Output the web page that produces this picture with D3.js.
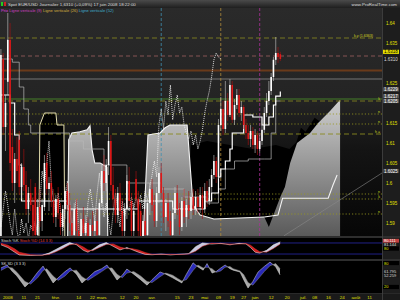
<!DOCTYPE html>
<html>
<head>
<meta charset="utf-8">
<script src="https://cdn.jsdelivr.net/npm/d3@7"></script>
<style>
  body { margin: 0; background: #000; }
  svg { display: block; font-family: "Liberation Sans", Arial, sans-serif; }
</style>
</head>
<body>
<div id="chart"></div>
<script>
// daily candles, day 0 = 27 Dec 2007 ... day 122 = 17 Jun 2008
const opens = [1.5830,1.6310,1.6140,1.6253,1.6358,1.6090,1.6000,1.6060,1.6108,1.5990,
  1.6040,1.5995,1.5935,1.5975,1.5945,1.5990,1.5870,1.5940,1.5905,1.5940,
  1.6050,1.5985,1.6000,1.5955,1.5915,1.5960,1.5925,1.5890,1.5935,1.5980,
  1.5945,1.5900,1.5870,1.5935,1.5880,1.5855,1.5910,1.5875,1.5900,1.5860,
  1.5895,1.5880,1.5905,1.5870,1.5950,1.6030,1.6000,1.6045,1.6105,1.5995,
  1.5960,1.5920,1.5975,1.5930,1.5880,1.5935,1.6005,1.5955,1.5880,1.6010,
  1.5960,1.5930,1.5865,1.5905,1.5870,1.5950,1.5985,1.5945,1.5905,1.5975,
  1.6025,1.5975,1.5915,1.5950,1.5905,1.5870,1.5925,1.5975,1.5935,1.5890,
  1.5955,1.5915,1.5945,1.5930,1.5965,1.5935,1.5965,1.5940,1.5970,1.5935,
  1.5980,1.5955,1.5990,1.6020,1.6055,1.6015,1.6145,1.6185,1.6135,1.6205,
  1.6170,1.6245,1.6158,1.6195,1.6220,1.6175,1.6190,1.6145,1.6125,1.6110,
  1.6130,1.6095,1.6120,1.6085,1.6105,1.6133,1.6175,1.6205,1.6230,1.6265,
  1.6308,1.6325,1.6322];
const highs = [1.6335,1.6325,1.6220,1.6425,1.6400,1.6135,1.6075,1.6115,1.6130,1.6050,
  1.6085,1.6030,1.5990,1.6010,1.5965,1.6000,1.5960,1.5985,1.5960,1.6070,
  1.6075,1.6015,1.6030,1.5985,1.5970,1.5990,1.5950,1.5945,1.5990,1.6000,
  1.5975,1.5930,1.5950,1.5960,1.5900,1.5925,1.5940,1.5920,1.5915,1.5910,
  1.5930,1.5920,1.5935,1.5960,1.6050,1.6070,1.6060,1.6140,1.6120,1.6040,
  1.5985,1.5990,1.6000,1.5960,1.5950,1.6020,1.6040,1.5975,1.5950,1.6030,
  1.5980,1.5950,1.5920,1.5935,1.5960,1.6000,1.6010,1.5970,1.5990,1.6040,
  1.6050,1.5990,1.5960,1.5975,1.5930,1.5940,1.5990,1.5995,1.5950,1.5965,
  1.5985,1.5960,1.5980,1.5975,1.5985,1.5980,1.5985,1.5990,1.5990,1.6000,
  1.6005,1.6010,1.6035,1.6070,1.6065,1.6160,1.6215,1.6205,1.6255,1.6225,
  1.6260,1.6255,1.6210,1.6235,1.6235,1.6205,1.6195,1.6160,1.6145,1.6145,
  1.6140,1.6135,1.6130,1.6120,1.6145,1.6190,1.6225,1.6255,1.6275,1.6315,
  1.6365,1.6340,1.6328];
const lows = [1.5780,1.6120,1.6080,1.6220,1.6030,1.5980,1.5950,1.6000,1.5970,1.5960,
  1.5980,1.5920,1.5900,1.5930,1.5860,1.5840,1.5850,1.5890,1.5880,1.5930,
  1.5970,1.5930,1.5940,1.5900,1.5890,1.5910,1.5870,1.5860,1.5910,1.5930,
  1.5880,1.5850,1.5850,1.5860,1.5830,1.5840,1.5860,1.5840,1.5840,1.5830,
  1.5860,1.5850,1.5860,1.5860,1.5940,1.5980,1.5980,1.6020,1.5980,1.5940,
  1.5900,1.5900,1.5920,1.5860,1.5850,1.5910,1.5940,1.5860,1.5860,1.5940,
  1.5860,1.5840,1.5840,1.5850,1.5860,1.5920,1.5930,1.5890,1.5890,1.5950,
  1.5960,1.5900,1.5880,1.5890,1.5850,1.5860,1.5910,1.5920,1.5870,1.5880,
  1.5900,1.5890,1.5910,1.5910,1.5920,1.5920,1.5925,1.5925,1.5910,1.5925,
  1.5940,1.5945,1.5975,1.6010,1.6000,1.6010,1.6130,1.6120,1.6125,1.6155,
  1.6165,1.6150,1.6145,1.6185,1.6165,1.6155,1.6135,1.6110,1.6095,1.6090,
  1.6085,1.6075,1.6070,1.6075,1.6095,1.6125,1.6165,1.6195,1.6220,1.6255,
  1.6295,1.6300,1.6305];
const closes = [1.6320,1.6140,1.6200,1.6358,1.6050,1.6000,1.6060,1.6030,1.5990,1.6040,
  1.5995,1.5935,1.5975,1.5945,1.5880,1.5870,1.5940,1.5905,1.5945,1.6050,
  1.5985,1.6000,1.5955,1.5915,1.5960,1.5925,1.5890,1.5935,1.5980,1.5945,
  1.5900,1.5870,1.5935,1.5880,1.5855,1.5910,1.5875,1.5900,1.5860,1.5895,
  1.5880,1.5905,1.5870,1.5950,1.6030,1.6000,1.6045,1.6105,1.5995,1.5960,
  1.5920,1.5975,1.5930,1.5880,1.5935,1.6005,1.5955,1.5880,1.5930,1.5960,
  1.5880,1.5865,1.5905,1.5870,1.5950,1.5985,1.5945,1.5905,1.5975,1.6025,
  1.5975,1.5915,1.5950,1.5905,1.5870,1.5925,1.5975,1.5935,1.5890,1.5955,
  1.5915,1.5945,1.5930,1.5965,1.5935,1.5965,1.5940,1.5970,1.5935,1.5980,
  1.5955,1.5990,1.6020,1.6055,1.6015,1.6145,1.6185,1.6135,1.6205,1.6170,
  1.6245,1.6158,1.6195,1.6220,1.6175,1.6190,1.6145,1.6125,1.6110,1.6130,
  1.6095,1.6120,1.6085,1.6105,1.6133,1.6175,1.6205,1.6230,1.6265,1.6308,
  1.6325,1.6315,1.6310];

// ichimoku lines as [day, price] breakpoints
const tenkan = [[0,1.6220],[4,1.6200],[6,1.6120],[8,1.6045],[9,1.5955],[27,1.5955],[29,1.5935],
  [55,1.5935],[60,1.5955],[70,1.5955],[75,1.5935],[85,1.5935],[89,1.5955],[92,1.5975],[95,1.6015],
  [96,1.6035],[98,1.6055],[100,1.6085],[101,1.6125],[106,1.6170],[110,1.6165],[114,1.6145],
  [117,1.6165],[119,1.6195],[120,1.6217],[122,1.6229]];
const kijun = [[0,1.6310],[5,1.6302],[8,1.6240],[10,1.6185],[12,1.6145],[13,1.6125],[29,1.6125],
  [30,1.6105],[36,1.6085],[45,1.6045],[55,1.6000],[70,1.5985],[80,1.5965],[90,1.5950],[95,1.5985],
  [98,1.6035],[102,1.6055],[108,1.6060],[115,1.6060],[118,1.6125],[120,1.6205],[122,1.6205]];
// span A: top of the grey cloud; its drawn line leaves the cloud edge after the last candle
const spanA = [[0,1.5800],[29,1.5800],[29.6,1.6108],[31,1.6125],[34.5,1.6128],[37.6,1.6133],
  [38.9,1.6143],[39.8,1.6083],[41,1.6050],[43.3,1.6050],[46.3,1.6040],[46.8,1.5800],[61.6,1.5800],
  [64.2,1.6120],[69.5,1.6125],[71.7,1.6138],[73.8,1.6145],[81.3,1.6145],[83.9,1.5945],[87,1.5920],
  [93,1.5910],[115,1.5915],[117,1.5890],[122,1.5965],[124,1.5990],[126.3,1.6050],[129.3,1.6100],
  [135,1.6125],[138.5,1.6150],[143.7,1.6180],[148.1,1.6208]];
const spanALine = [[115,1.5915],[121,1.5920],[123,1.5962],[142.9,1.5962],[145,1.5995],[146.8,1.6020]];
// span B: top of the black cloud
const spanB = [[0,1.5800],[16.5,1.5800],[17,1.6145],[19,1.6175],[24,1.6175],[24.5,1.6145],
  [27.5,1.6145],[28,1.5800],[73.5,1.5800],[74,1.5975],[82,1.5975],[83,1.6095],[90,1.6105],
  [100,1.6095],[110,1.6085],[120,1.6095],[126,1.6085],[129,1.6102],[131,1.6138],[133,1.6128],
  [135,1.6145],[137,1.6163],[139,1.6155],[142,1.6165],[144,1.6170],[148.1,1.6170]];

// oscillators, [day, value]
const stochK = [[0,70],[3,55],[6,30],[8,15],[13,12],[18,14],[21,25],[24,45],[27,65],[30,82],[33,70],
  [36,40],[38,30],[40,45],[43,70],[46,82],[49,62],[52,42],[55,55],[57,45],[60,30],[63,18],[66,16],
  [70,20],[74,15],[78,19],[82,22],[85,60],[88,80],[92,74],[96,78],[100,70],[104,78],[107,75],
  [109,55],[111,30],[113,25],[116,40],[119,70],[122,86]];
const stochD = [[0,78],[3,68],[6,48],[8,30],[13,16],[18,13],[21,18],[24,32],[27,50],[30,70],[33,76],
  [36,58],[38,42],[40,38],[43,55],[46,72],[49,75],[52,58],[55,48],[57,50],[60,42],[63,28],[66,18],
  [70,18],[74,18],[78,17],[82,20],[85,35],[88,62],[92,78],[96,76],[100,74],[104,74],[107,77],
  [109,68],[111,48],[113,32],[116,30],[119,50],[122,75]];
const skK = [[0,72],[2.7,80],[5,62],[7,50],[10.5,20],[13,35],[16,60],[18.4,77],[20,60],[22.8,31],
  [25,45],[28,62],[30.2,72],[33,55],[35.4,31],[38,45],[41,62],[44,70],[46.3,80],[48.5,60],[50.7,39],
  [53,52],[55,69],[58,55],[61,40],[63.8,25],[66,40],[69.5,61],[72,55],[75,45],[77,38],[79,31],
  [81,55],[83.9,86],[86,75],[88.3,66],[90,84],[92.2,58],[94,62],[96,72],[97.9,80],[100,70],
  [101.4,66],[104.4,61],[106,40],[107.9,17],[110,35],[112.3,61],[115,76],[117.5,88],[120,75],[121.9,53]];
const skD = [[0,65],[2.7,74],[5,72],[7,60],[10.5,35],[13,28],[16,45],[18.4,65],[20,70],[22.8,50],
  [25,38],[28,50],[30.2,64],[33,66],[35.4,48],[38,38],[41,50],[44,62],[46.3,72],[48.5,72],[50.7,55],
  [53,45],[55,58],[58,62],[61,50],[63.8,35],[66,32],[69.5,48],[72,58],[75,52],[77,44],[79,36],
  [81,40],[83.9,65],[86,80],[88.3,72],[90,74],[92.2,70],[94,60],[96,64],[97.9,74],[100,76],
  [101.4,70],[104.4,64],[106,54],[107.9,32],[110,25],[112.3,42],[115,62],[117.5,78],[120,84],[121.9,70]];

const priceTicks = [1.59, 1.595, 1.6, 1.605, 1.61, 1.615, 1.62, 1.625, 1.63, 1.635, 1.64];
const priceTags = [[1.6323,'1.6318','#e8e000','#000'],[1.6310,'1.6310','#181818','#ddd'],
  [1.6229,'1.6229','#505050','#fff'],[1.6217,'1.6217','#505050','#fff'],[1.6205,'1.6205','#505050','#fff'],
  [1.6025,'1.6025','#404040','#fff']];
const dateTicks = [[3,'2008'],[10,'11'],[16,'21'],[24,'févr.'],[34,'14'],[40,'22'],[44,'mars'],
  [53,'12'],[59,'20'],[66,'avr.'],[77,'15'],[83,'23'],[89,'mai'],[95,'09'],[101,'19'],[106,'27'],
  [111,'juin'],[118,'12'],[125,'20'],[132,'juil.'],[137,'08'],[143,'16'],[149,'24'],[155,'août'],[161,'11']];
const verticals = [[70,'#3f8fb0'],[96,'#b08a3a'],[113,'#b0309a']];
const levels = [[1.63625,'#8a8a20','5,3',0.8],[1.63175,'#a06060','4,3',0.8],[1.6281,'#6a3a1a',null,2],
  [1.6260,'#8c8c8c',null,0.8],[1.6210,'#4a8a2a',null,0.9],[1.6205,'#8a8a20','5,3',0.8],
  [1.61725,'#9a9a20','1.2,2',0.8],[1.61475,'#9a9a20','1.2,2',0.8],[1.61225,'#8a8a20','5,3',0.9],
  [1.59725,'#9a9a20','1.2,2',0.8],[1.5960,'#9a9a20','1.2,2',0.8],[1.59225,'#9a9a20','1.2,2',0.8]];
const stTags = [[80.111,'80.111','#c04040','#fff'],[81.144,'81.144','#181818','#ddd'],[80,'80','#000','#e0e000']];
const skTags = [[80,'80','#000','#e0e000'],[61.795,'61.795','#181818','#ddd'],[52.259,'52.259','#181818','#ddd'],
  [20,'20','#000','#e0e000']];

const W = 400, H = 300, plotR = 382;
const mainTop = 8, mainBot = 236;
const stTop = 238, stBot = 259, skTop = 261, skBot = 293;

const svg = d3.select('#chart').append('svg').attr('width', W).attr('height', H);
const defs = svg.append('defs');

const x = d3.scaleLinear().domain([-0.4, 166.4]).range([0, plotR]);
const y = d3.scaleLinear().domain([1.59, 1.64]).range([223, 23]);
const ySt = d3.scaleLinear().domain([0, 100]).range([257.7, 239.3]);
const ySk = d3.scaleLinear().domain([0, 100]).range([294.3, 257.7]);

// gradients
let g = defs.append('linearGradient').attr('id', 'bg').attr('gradientUnits', 'userSpaceOnUse')
  .attr('x1', 0).attr('x2', 0).attr('y1', mainTop).attr('y2', mainBot);
g.append('stop').attr('offset', '0%').attr('stop-color', '#2a2a2a');
g.append('stop').attr('offset', '40%').attr('stop-color', '#242424');
g.append('stop').attr('offset', '62%').attr('stop-color', '#141414');
g.append('stop').attr('offset', '100%').attr('stop-color', '#060606');

g = defs.append('linearGradient').attr('id', 'kumo').attr('gradientUnits', 'userSpaceOnUse')
  .attr('x1', 0).attr('x2', 0).attr('y1', 95).attr('y2', mainBot);
g.append('stop').attr('offset', '0%').attr('stop-color', '#d2d2d2');
g.append('stop').attr('offset', '100%').attr('stop-color', '#5a5a5a');

g = defs.append('linearGradient').attr('id', 'hdr').attr('x1', 0).attr('x2', 0).attr('y1', 0).attr('y2', 1);
g.append('stop').attr('offset', '0%').attr('stop-color', '#4a4a4a');
g.append('stop').attr('offset', '100%').attr('stop-color', '#1e1e1e');

defs.append('clipPath').attr('id', 'mainClip').append('rect')
  .attr('x', 0).attr('y', mainTop).attr('width', plotR).attr('height', mainBot - mainTop);

// page background and panels
svg.append('rect').attr('width', W).attr('height', H).attr('fill', '#2b2b2b');
svg.append('rect').attr('y', mainTop).attr('width', plotR).attr('height', mainBot - mainTop).attr('fill', 'url(#bg)');
svg.append('rect').attr('y', stTop).attr('width', plotR).attr('height', stBot - stTop).attr('fill', '#000');
svg.append('rect').attr('y', skTop).attr('width', plotR).attr('height', skBot - skTop).attr('fill', '#000');
svg.append('rect').attr('x', plotR).attr('y', mainTop).attr('width', W - plotR).attr('height', skBot - mainTop).attr('fill', '#1d1d1d');
svg.append('rect').attr('y', skBot).attr('width', W).attr('height', H - skBot).attr('fill', '#1a1a1a');
svg.append('rect').attr('width', W).attr('height', mainTop).attr('fill', 'url(#hdr)');

const main = svg.append('g').attr('clip-path', 'url(#mainClip)');

// kumo: span B area in black, span A area in grey laid over it
const fromTop = d3.area().x(d => x(d[0])).y0(mainBot + 20).y1(d => y(d[1]));
main.append('path').attr('d', fromTop(spanB)).attr('fill', '#000');
main.append('path').attr('d', fromTop(spanA)).attr('fill', 'url(#kumo)');

// horizontal levels
levels.forEach(l => {
  main.append('line').attr('x1', 0).attr('x2', plotR).attr('y1', y(l[0])).attr('y2', y(l[0]))
    .attr('stroke', l[1]).attr('stroke-width', l[3]).attr('stroke-dasharray', l[2]);
});
const lvLab = main.append('g').attr('font-size', 3.6).attr('fill', '#d8d820').attr('text-anchor', 'end');
lvLab.append('text').attr('x', 373).attr('y', y(1.63625) - 1).text('k.y (1.6363)');
[[1.6205, 'k'], [1.61725, 'n'], [1.61475, 'n'], [1.61225, 'h ='], [1.59725, 'n'], [1.5960, 'k'], [1.59225, 'n']]
  .forEach(t => lvLab.append('text').attr('x', 380).attr('y', y(t[0]) - 0.8).text(t[1]));

// diagonal trend line
main.append('line').attr('x1', x(123.6)).attr('y1', y(1.5868)).attr('x2', x(166.4)).attr('y2', y(1.6025))
  .attr('stroke', '#8a8a8a').attr('stroke-width', 0.6);

// vertical period lines
verticals.forEach(v => {
  main.append('line').attr('x1', x(v[0])).attr('x2', x(v[0])).attr('y1', mainTop).attr('y2', mainBot)
    .attr('stroke', v[1]).attr('stroke-width', 0.8).attr('stroke-dasharray', '3,2');
});

// ichimoku lines
const ln = d3.line().x(d => x(d[0])).y(d => y(d[1]));
main.append('path').attr('d', ln.defined(d => d[0] < 30)(spanB)).attr('fill', 'none')
  .attr('stroke', '#e6dfb0').attr('stroke-width', 1);
ln.defined(d => d[0] <= 115);
main.append('path').attr('d', ln(spanA)).attr('fill', 'none').attr('stroke', '#f4f4f4').attr('stroke-width', 1.1);
ln.defined(() => true);
main.append('path').attr('d', ln(spanALine)).attr('fill', 'none').attr('stroke', '#f4f4f4').attr('stroke-width', 1.1);
const step = d3.line().curve(d3.curveStepAfter).x(d => x(d[0])).y(d => y(d[1]));
main.append('path').attr('d', step(kijun)).attr('fill', 'none').attr('stroke', '#b8b8b8').attr('stroke-width', 0.7);
main.append('path').attr('d', step(tenkan)).attr('fill', 'none').attr('stroke', '#fff').attr('stroke-width', 1.2);
main.append('path').attr('d', ln(closes.map((c, i) => [i - 26, c])))
  .attr('fill', 'none').attr('stroke', '#eee').attr('stroke-width', 0.9).attr('stroke-dasharray', '1,1');

// candles
const bw = 1.6;
closes.forEach((c, i) => {
  const up = c >= opens[i];
  main.append('line').attr('x1', x(i)).attr('x2', x(i)).attr('y1', y(highs[i])).attr('y2', y(lows[i]))
    .attr('stroke', up ? '#c8c8c8' : '#b01010').attr('stroke-width', 0.6);
  main.append('rect').attr('x', x(i) - bw / 2).attr('width', bw)
    .attr('y', y(Math.max(c, opens[i]))).attr('height', Math.max(0.6, Math.abs(y(c) - y(opens[i]))))
    .attr('fill', up ? '#fff' : '#e01818');
});

// value tags on the right axis, pushed apart when they would overlap
function tags(grp, list, scale, gap) {
  let last = -Infinity;
  list.map(t => ({ t, yy: scale(t[0]) })).forEach((d, i) => {
    let yy = i === 0 ? d.yy - 2 : d.yy;
    if (yy < last + gap) yy = last + gap;
    last = yy;
    grp.append('rect').attr('x', 383).attr('y', yy - 2.1).attr('width', 16).attr('height', 4.2).attr('fill', d.t[2]);
    grp.append('text').attr('x', 384).attr('y', yy + 1.5).attr('fill', d.t[3]).text(d.t[1]);
  });
}

const ax = svg.append('g').attr('font-size', 4.5);
priceTicks.filter(t => !priceTags.some(p => Math.abs(y(p[0]) - y(t)) < 5)).forEach(t => {
  ax.append('text').attr('x', 386).attr('y', y(t) + 1.6).attr('fill', '#e0e000').text(String(t));
});
tags(ax, priceTags.slice(0, 2), y, 4.6);
tags(ax, priceTags.slice(2, 5), y, 4.2);
tags(ax, priceTags.slice(5), y, 4.2);

// header
svg.append('rect').attr('x', 1).attr('y', 2).attr('width', 2).attr('height', 4).attr('fill', '#2c2');
svg.append('rect').attr('x', 4).attr('y', 2).attr('width', 2).attr('height', 4).attr('fill', '#c22');
svg.append('text').attr('x', 8).attr('y', 6).attr('font-size', 4.4).attr('fill', '#ddd')
  .text('Spot EUR/USD   Journalier   1,6310 (+0,09%)   17 juin 2008 18:22:00');
svg.append('text').attr('x', 397).attr('y', 5.5).attr('font-size', 4.4).attr('fill', '#ddd')
  .attr('text-anchor', 'end').text('www.ProRealTime.com');
const leg = svg.append('text').attr('x', 1).attr('y', 11.5).attr('font-size', 4.1);
leg.append('tspan').attr('fill', '#e040e0').text('Prix ');
leg.append('tspan').attr('fill', '#d040c0').text('Ligne verticale (9) ');
leg.append('tspan').attr('fill', '#d8b040').text('Ligne verticale (26) ');
leg.append('tspan').attr('fill', '#40b0d0').text('Ligne verticale (52)');

// stochastic panel: light fill where %K leads, red where %D leads
const st = svg.append('g');
[80, 20].forEach(v => st.append('line').attr('x1', 0).attr('x2', plotR).attr('y1', ySt(v)).attr('y2', ySt(v))
  .attr('stroke', '#2828a8').attr('stroke-width', 0.8));
defs.append('clipPath').attr('id', 'stAboveD').append('path')
  .attr('d', d3.area().x(d => x(d[0])).y0(stTop).y1(d => ySt(d[1]))(stochD));
defs.append('clipPath').attr('id', 'stAboveK').append('path')
  .attr('d', d3.area().x(d => x(d[0])).y0(stTop).y1(d => ySt(d[1]))(stochK));
st.append('path').attr('d', d3.area().x(d => x(d[0])).y0(stBot).y1(d => ySt(d[1]))(stochK))
  .attr('clip-path', 'url(#stAboveD)').attr('fill', '#c8c8e0');
st.append('path').attr('d', d3.area().x(d => x(d[0])).y0(stBot).y1(d => ySt(d[1]))(stochD))
  .attr('clip-path', 'url(#stAboveK)').attr('fill', '#d02020');
const lSt = d3.line().x(d => x(d[0])).y(d => ySt(d[1]));
st.append('path').attr('d', lSt(stochK)).attr('fill', 'none').attr('stroke', '#fff').attr('stroke-width', 0.5);
st.append('path').attr('d', lSt(stochD)).attr('fill', 'none').attr('stroke', '#e03030').attr('stroke-width', 0.5);
const stl = svg.append('text').attr('x', 1).attr('y', stTop + 4.2).attr('font-size', 4);
stl.append('tspan').attr('fill', '#ddd').text('Stoch %K ');
stl.append('tspan').attr('fill', '#e04040').text('Stoch %D (14 3 3)');

// second oscillator panel: blue where %K leads, grey where %D leads
const sk = svg.append('g');
defs.append('clipPath').attr('id', 'skAboveD').append('path')
  .attr('d', d3.area().x(d => x(d[0])).y0(skTop).y1(d => ySk(d[1]))(skD));
defs.append('clipPath').attr('id', 'skAboveK').append('path')
  .attr('d', d3.area().x(d => x(d[0])).y0(skTop).y1(d => ySk(d[1]))(skK));
sk.append('path').attr('d', d3.area().x(d => x(d[0])).y0(skBot).y1(d => ySk(d[1]))(skK))
  .attr('clip-path', 'url(#skAboveD)').attr('fill', '#2a2ab8');
sk.append('path').attr('d', d3.area().x(d => x(d[0])).y0(skBot).y1(d => ySk(d[1]))(skD))
  .attr('clip-path', 'url(#skAboveK)').attr('fill', '#a8a8a8');
const lSk = d3.line().x(d => x(d[0])).y(d => ySk(d[1]));
sk.append('path').attr('d', lSk(skK)).attr('fill', 'none').attr('stroke', '#ddd').attr('stroke-width', 0.5);
sk.append('path').attr('d', lSk(skD)).attr('fill', 'none').attr('stroke', '#888').attr('stroke-width', 0.5);
svg.append('text').attr('x', 1).attr('y', skTop + 4.2).attr('font-size', 4).attr('fill', '#ddd').text('SK SD (3 3 3)');

const oax = svg.append('g').attr('font-size', 4);
tags(oax, stTags, ySt, 3.8);
tags(oax, skTags, ySk, 3.8);

// separators
[[mainBot, 2], [stBot, 2], [skBot, 0.8]].forEach(s => svg.append('rect').attr('y', s[0]).attr('width', W)
  .attr('height', s[1]).attr('fill', '#2e2e2e'));
svg.append('line').attr('x1', plotR + 0.5).attr('x2', plotR + 0.5).attr('y1', mainTop).attr('y2', H)
  .attr('stroke', '#444').attr('stroke-width', 0.8);

// date axis
const dax = svg.append('g').attr('font-size', 4.4).attr('fill', '#e0e000').attr('text-anchor', 'middle');
dateTicks.forEach(t => dax.append('text').attr('x', x(t[0])).attr('y', 298.5).text(t[1]));
</script>
</body>
</html>
